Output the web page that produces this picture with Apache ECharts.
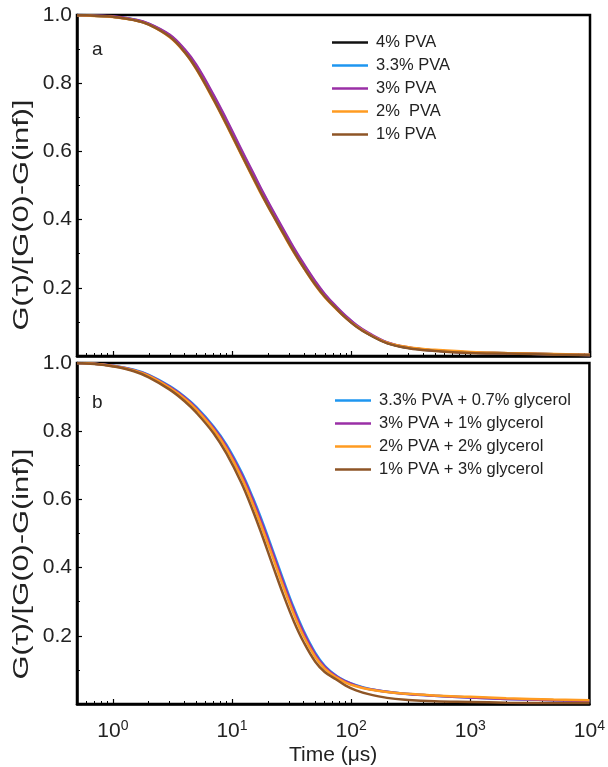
<!DOCTYPE html>
<html>
<head>
<meta charset="utf-8">
<script src="https://cdn.jsdelivr.net/npm/echarts@6/dist/echarts.min.js"></script>
<style>
html, body { margin: 0; padding: 0; background: #fff; }
#chart { width: 608px; height: 767px; }
</style>
</head>
<body>
<div id="chart"></div>
<script>
// lag times (μs)
const T = [0.5, 0.7, 1, 1.5, 2, 3, 4, 5, 7, 9, 12, 15, 18, 22, 27, 33, 40, 50, 60, 75, 90, 110, 140, 200, 300, 500, 1000, 2000, 5000, 10000]

// panel a
const namesA = ['4% PVA', '3.3% PVA', '3% PVA', '2%  PVA', '1% PVA']
const pva4 = [1.000, 0.998, 0.995, 0.986, 0.973, 0.938, 0.894, 0.847, 0.757, 0.683, 0.595, 0.528, 0.474, 0.418, 0.362, 0.309, 0.262, 0.212, 0.176, 0.140, 0.113, 0.088, 0.064, 0.038, 0.024, 0.016, 0.010, 0.008, 0.005, 0.003]
const pva33 = [1.000, 0.998, 0.995, 0.987, 0.974, 0.940, 0.897, 0.851, 0.762, 0.688, 0.600, 0.533, 0.479, 0.423, 0.366, 0.313, 0.266, 0.215, 0.179, 0.142, 0.115, 0.090, 0.065, 0.039, 0.024, 0.016, 0.010, 0.008, 0.005, 0.003]
const pva3 = [1.000, 0.998, 0.996, 0.987, 0.975, 0.942, 0.899, 0.854, 0.765, 0.692, 0.604, 0.537, 0.482, 0.426, 0.370, 0.316, 0.269, 0.218, 0.181, 0.144, 0.117, 0.091, 0.067, 0.040, 0.025, 0.016, 0.010, 0.008, 0.005, 0.003]
const pva2 = [0.999, 0.997, 0.994, 0.985, 0.972, 0.935, 0.890, 0.841, 0.750, 0.676, 0.588, 0.521, 0.467, 0.412, 0.356, 0.303, 0.257, 0.207, 0.172, 0.137, 0.111, 0.087, 0.064, 0.039, 0.026, 0.018, 0.012, 0.009, 0.006, 0.004]
const pva1 = [1.000, 0.998, 0.995, 0.985, 0.972, 0.936, 0.891, 0.843, 0.752, 0.678, 0.590, 0.523, 0.469, 0.413, 0.358, 0.305, 0.258, 0.208, 0.173, 0.138, 0.111, 0.086, 0.063, 0.037, 0.023, 0.015, 0.009, 0.007, 0.004, 0.002]

// panel b
const namesB = ['3.3% PVA + 0.7% glycerol', '3% PVA + 1% glycerol', '2% PVA + 2% glycerol', '1% PVA + 3% glycerol']
const gly07 = [1.000, 0.998, 0.992, 0.980, 0.965, 0.932, 0.901, 0.871, 0.814, 0.760, 0.680, 0.604, 0.534, 0.450, 0.363, 0.282, 0.214, 0.150, 0.112, 0.083, 0.067, 0.055, 0.045, 0.036, 0.029, 0.024, 0.019, 0.015, 0.011, 0.009]
const gly1 = [1.000, 0.998, 0.992, 0.979, 0.964, 0.930, 0.899, 0.868, 0.810, 0.755, 0.674, 0.597, 0.526, 0.442, 0.355, 0.275, 0.208, 0.145, 0.109, 0.081, 0.066, 0.054, 0.044, 0.036, 0.029, 0.024, 0.019, 0.015, 0.011, 0.009]
const gly2 = [1.000, 0.998, 0.991, 0.978, 0.962, 0.927, 0.895, 0.864, 0.805, 0.748, 0.665, 0.586, 0.514, 0.430, 0.343, 0.264, 0.198, 0.138, 0.104, 0.078, 0.063, 0.052, 0.043, 0.035, 0.030, 0.025, 0.021, 0.017, 0.013, 0.011]
const gly3 = [1.000, 0.997, 0.990, 0.976, 0.958, 0.922, 0.888, 0.855, 0.794, 0.734, 0.648, 0.566, 0.492, 0.406, 0.320, 0.243, 0.181, 0.124, 0.094, 0.072, 0.054, 0.040, 0.029, 0.018, 0.012, 0.008, 0.006, 0.004, 0.003, 0.003]

const colorsA = ['#111111', '#1e96f0', '#9a2fa6', '#ff9b21', '#8e5526']
const colorsB = ['#1e96f0', '#9a2fa6', '#ff9b21', '#8e5526']

// axis ticks
const majorX = [1, 10, 100, 1000, 10000]
const minorX = [0.6, 0.7, 0.8, 0.9, 2, 3, 4, 5, 6, 7, 8, 9, 20, 30, 40, 50, 60, 70, 80, 90,
  200, 300, 400, 500, 600, 700, 800, 900, 2000, 3000, 4000, 5000, 6000, 7000, 8000, 9000]

const FONT = 'Liberation Sans, Arial, Helvetica, sans-serif'
const myChart = echarts.init(document.getElementById('chart'))

function toPairs (vals) {
  return T.map((t, i) => [t, vals[i]])
}

function xAxes (grid, showLabels) {
  return [{
    type: 'log',
    gridIndex: grid,
    min: 0.5,
    max: 10000,
    axisLine: { lineStyle: { color: '#000', width: 2.5 } },
    axisTick: { inside: true, length: 5, customValues: majorX, lineStyle: { color: '#000', width: 1.2 } },
    splitLine: { show: false },
    axisLabel: {
      show: showLabels,
      customValues: majorX,
      margin: 15,
      formatter: function (v) {
        const e = Math.round(Math.log10(v))
        return '{b|10}{s|' + e + '}'
      },
      rich: {
        b: { fontSize: 21, fontFamily: FONT, color: '#222', lineHeight: 24 },
        s: { fontSize: 14, fontFamily: FONT, color: '#222', verticalAlign: 'top', lineHeight: 14 }
      }
    },
    name: showLabels ? 'Time (μs)' : '',
    nameLocation: 'middle',
    nameGap: 41,
    nameTextStyle: { fontSize: 21, fontFamily: FONT, color: '#222' }
  }, {
    type: 'log',
    gridIndex: grid,
    position: 'bottom',
    min: 0.5,
    max: 10000,
    axisLine: { show: false },
    axisTick: { inside: true, length: 3, customValues: minorX, lineStyle: { color: '#000', width: 1 } },
    axisLabel: { show: false },
    splitLine: { show: false }
  }]
}

function yAxis (grid) {
  return {
    type: 'value',
    gridIndex: grid,
    min: 0,
    max: 1,
    interval: 0.2,
    axisLine: { show: true, lineStyle: { color: '#000', width: 2.5 } },
    axisTick: { show: true, inside: true, length: 5, lineStyle: { color: '#000', width: 1.2 } },
    minorTick: { show: true, splitNumber: 2, length: 3, lineStyle: { color: '#000', width: 1 } },
    splitLine: { show: false },
    axisLabel: {
      margin: 5,
      fontSize: 21,
      fontFamily: FONT,
      color: '#222',
      formatter: v => (v === 0 ? '' : v.toFixed(1))
    }
  }
}

function lineSeries (name, vals, color, xi, yi) {
  return {
    name: name,
    type: 'line',
    xAxisIndex: xi,
    yAxisIndex: yi,
    data: toPairs(vals),
    showSymbol: false,
    smooth: 0.4,
    color: color,
    lineStyle: { width: 2.5, color: color }
  }
}

const seriesA = [pva4, pva33, pva3, pva2, pva1].map((v, i) => lineSeries(namesA[i], v, colorsA[i], 0, 0))
const seriesB = [gly07, gly1, gly2, gly3].map((v, i) => lineSeries(namesB[i], v, colorsB[i], 2, 1))

const legendBase = {
  orient: 'vertical',
  icon: 'rect',
  itemWidth: 36,
  itemHeight: 2.5,
  itemGap: 6,
  padding: 0,
  textStyle: { fontSize: 16.5, fontFamily: FONT, color: '#222', lineHeight: 16, padding: [0, 0, 0, 3] }
}

const yName = 'G(τ)/[G(0)-G(inf)]'

const option = {
  backgroundColor: '#fff',
  animation: false,
  grid: [
    { left: 77, right: 18, top: 15, height: 341, show: true, borderColor: '#000', borderWidth: 2.5 },
    { left: 77, right: 18, top: 363, height: 342, show: true, borderColor: '#000', borderWidth: 2.5 }
  ],
  xAxis: xAxes(0, false).concat(xAxes(1, true)),
  yAxis: [yAxis(0), yAxis(1)],
  legend: [
    Object.assign({}, legendBase, { data: namesA, left: 332, top: 34 }),
    Object.assign({}, legendBase, { data: namesB, left: 335, top: 392 })
  ],
  graphic: [
    { type: 'text', left: 92, top: 40, style: { text: 'a', fontSize: 19, fontFamily: FONT, fill: '#222' } },
    { type: 'text', left: 92, top: 393, style: { text: 'b', fontSize: 19, fontFamily: FONT, fill: '#222' } },
    { type: 'text', x: 22, y: 215, rotation: Math.PI / 2, scaleX: 1.4, style: { text: yName, fontSize: 22, fontFamily: FONT, fill: '#222', align: 'center', verticalAlign: 'middle' } },
    { type: 'text', x: 22, y: 564, rotation: Math.PI / 2, scaleX: 1.4, style: { text: yName, fontSize: 22, fontFamily: FONT, fill: '#222', align: 'center', verticalAlign: 'middle' } }
  ],
  series: seriesA.concat(seriesB)
}

myChart.setOption(option)
window.addEventListener('resize', () => {
  myChart.resize()
})
</script>
</body>
</html>
